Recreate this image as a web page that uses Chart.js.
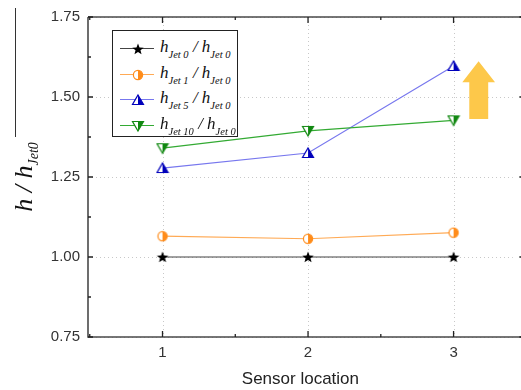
<!DOCTYPE html>
<html>
<head>
<meta charset="utf-8">
<script src="https://cdn.jsdelivr.net/npm/chart.js@4/dist/chart.umd.min.js"></script>
<style>
  html, body { margin: 0; padding: 0; background: #fff; overflow: hidden; }
  #wrap { position: relative; width: 521px; height: 390px; overflow: hidden; }
  #legend { position: absolute; left: 112px; top: 30px; width: 124px; height: 105px; border: 1px solid #222; background: #fff; }
  .row { position: absolute; left: 0; height: 24px; width: 124px; }
  .row .ln { position: absolute; left: 7px; top: 12px; width: 34px; height: 0; border-top: 1px solid; }
  .row img { position: absolute; left: 18px; top: 6px; }
  .row .tx { position: absolute; left: 47px; top: 0px; font-family: "Liberation Serif", "DejaVu Serif", serif; font-style: italic; font-size: 17px; color: #111; white-space: nowrap; line-height: 22px; }
  .tx sub { font-size: 10.5px; vertical-align: -6px; }
  #ytitle { position: absolute; left: 25px; top: 177px; transform: translate(-50%, -50%) rotate(-90deg); font-family: "Liberation Serif", "DejaVu Serif", serif; font-style: italic; font-size: 26px; color: #111; white-space: nowrap; }
  #ytitle sub { font-size: 14px; vertical-align: -6px; }
  #ybar { position: absolute; left: 15px; top: 8px; width: 0; height: 129px; border-left: 1px solid #333; }
</style>
</head>
<body>
<div id="wrap">
  <canvas id="c" width="521" height="390"></canvas>
  <div id="ybar"></div>
  <div id="ytitle">h / h<sub>Jet0</sub></div>
  <div id="legend"></div>
</div>
<script>
const sensorLocations = [1, 2, 3];
const jet0 = [1.000, 1.000, 1.000];
const jet1 = [1.065, 1.057, 1.076];
const jet5 = [1.278, 1.325, 1.597];
const jet10 = [1.340, 1.394, 1.427];
const xTickValues = [1, 2, 3];
const yTickValues = [0.75, 1.00, 1.25, 1.50, 1.75];
const seriesLabels = ["Jet 0", "Jet 1", "Jet 5", "Jet 10"];

function makeMarker(kind, color) {
  const s = 14, c = document.createElement('canvas');
  c.width = s; c.height = s;
  const g = c.getContext('2d');
  const cx = s / 2, cy = s / 2;
  g.lineWidth = 1.2;
  if (kind === 'star') {
    g.beginPath();
    for (let i = 0; i < 10; i++) {
      const r = i % 2 === 0 ? 6 : 2.6;
      const a = -Math.PI / 2 + i * Math.PI / 5;
      g.lineTo(cx + r * Math.cos(a), cy + 0.5 + r * Math.sin(a));
    }
    g.closePath(); g.fillStyle = color; g.fill();
  } else if (kind === 'circle') {
    const r = 4.6;
    g.beginPath(); g.arc(cx, cy, r, 0, Math.PI * 2); g.fillStyle = '#fff'; g.fill();
    g.beginPath(); g.arc(cx, cy, r, -Math.PI / 2, Math.PI / 2); g.closePath(); g.fillStyle = color; g.fill();
    g.beginPath(); g.arc(cx, cy, r, 0, Math.PI * 2); g.strokeStyle = color; g.stroke();
  } else {
    const up = kind === 'triUp';
    const t = up ? cy - 5 : cy + 5, b = up ? cy + 4.5 : cy - 4.5;
    g.beginPath(); g.moveTo(cx, t); g.lineTo(cx + 5.5, b); g.lineTo(cx - 5.5, b); g.closePath();
    g.fillStyle = '#fff'; g.fill();
    g.beginPath(); g.moveTo(cx, t); g.lineTo(cx + 5.5, b); g.lineTo(cx, b); g.closePath();
    g.fillStyle = color; g.fill();
    g.beginPath(); g.moveTo(cx, t); g.lineTo(cx + 5.5, b); g.lineTo(cx - 5.5, b); g.closePath();
    g.strokeStyle = color; g.stroke();
  }
  return c;
}

const styles = [
  { line: '#444444', mk: makeMarker('star', '#000000') },
  { line: '#ffaa55', mk: makeMarker('circle', '#ff8c1a') },
  { line: '#7777ee', mk: makeMarker('triUp', '#0000bb') },
  { line: '#33aa33', mk: makeMarker('triDown', '#118811') },
];
const seriesData = [jet0, jet1, jet5, jet10];

const datasets = seriesData.map((arr, i) => ({
  label: 'h ' + seriesLabels[i] + ' / h Jet 0',
  data: sensorLocations.map((x, j) => ({ x: x, y: arr[j] })),
  borderColor: styles[i].line,
  borderWidth: 1.2,
  pointStyle: styles[i].mk,
  pointRadius: 7,
  pointHoverRadius: 7,
  tension: 0,
  fill: false,
  clip: false,
  order: 4 - i
}));

const leg = document.getElementById('legend');
seriesLabels.forEach((lab, i) => {
  const row = document.createElement('div');
  row.className = 'row';
  row.style.top = (5 + i * 25.5) + 'px';
  row.innerHTML = '<div class="ln" style="border-color:' + styles[i].line + '"></div>' +
    '<img src="' + styles[i].mk.toDataURL() + '">' +
    '<div class="tx">h<sub>' + lab + '</sub> / h<sub>Jet 0</sub></div>';
  leg.appendChild(row);
});

const framePlugin = {
  id: 'frame',
  beforeDatasetsDraw(chart) {
    const { ctx, chartArea: a, scales: { x } } = chart;
    ctx.save();
    ctx.strokeStyle = '#c8c8c8';
    ctx.lineWidth = 1;
    ctx.setLineDash([1, 3]);
    ctx.beginPath();
    xTickValues.forEach(v => {
      const p = Math.round(x.getPixelForValue(v)) + 0.5;
      ctx.moveTo(p, a.top); ctx.lineTo(p, a.bottom);
    });
    ctx.stroke();
    ctx.restore();
  },
  afterDatasetsDraw(chart) {
    const { ctx, scales: { x, y } } = chart;
    ctx.save();
    const px = v => x.getPixelForValue(v), py = v => y.getPixelForValue(v);
    ctx.fillStyle = '#fdc84a';
    ctx.beginPath();
    ctx.moveTo(px(3.172), py(1.612));
    ctx.lineTo(px(3.285), py(1.546));
    ctx.lineTo(px(3.238), py(1.546));
    ctx.lineTo(px(3.238), py(1.431));
    ctx.lineTo(px(3.108), py(1.431));
    ctx.lineTo(px(3.108), py(1.546));
    ctx.lineTo(px(3.060), py(1.546));
    ctx.closePath(); ctx.fill();
    ctx.restore();
  },
  afterDraw(chart) {
    const { ctx, chartArea: a, scales: { x, y } } = chart;
    ctx.save();
    ctx.strokeStyle = '#4a4a4a';
    ctx.lineWidth = 1.6;
    ctx.beginPath();
    ctx.moveTo(a.left, a.top); ctx.lineTo(chart.width, a.top);
    ctx.moveTo(a.left, a.top); ctx.lineTo(a.left, a.bottom); ctx.lineTo(chart.width, a.bottom);
    ctx.stroke();
    ctx.strokeStyle = '#222';
    ctx.lineWidth = 1.3;
    ctx.beginPath();
    for (let v = 0.5; v <= 3.5 + 1e-9; v += 0.5) {
      const p = x.getPixelForValue(v);
      const L = Math.abs(v - Math.round(v)) < 1e-9 ? 6 : 3;
      ctx.moveTo(p, a.bottom); ctx.lineTo(p, a.bottom - L);
      ctx.moveTo(p, a.top); ctx.lineTo(p, a.top + L);
    }
    const rightEdge = x.getPixelForValue(3.5);
    for (let v = y.min; v <= y.max + 1e-9; v += 0.125) {
      const p = y.getPixelForValue(v);
      const major = Math.abs(v * 4 - Math.round(v * 4)) < 1e-9;
      const L = major ? 5 : 3;
      ctx.moveTo(a.left, p); ctx.lineTo(a.left + L, p);
      ctx.moveTo(rightEdge, p); ctx.lineTo(rightEdge - (major ? 7 : 4), p);
    }
    ctx.stroke();
    ctx.restore();
  }
};

new Chart(document.getElementById('c'), {
  type: 'line',
  data: { datasets },
  options: {
    responsive: false,
    animation: false,
    events: [],
    layout: { padding: { left: 0, right: 0, top: 17, bottom: 0 } },
    plugins: { legend: { display: false }, tooltip: { enabled: false } },
    scales: {
      x: {
        type: 'linear', min: 0.488, max: 3.407,
        afterBuildTicks: s => { s.ticks = xTickValues.map(v => ({ value: v })); },
        afterFit: s => { s.height = 53; s.paddingLeft = 0; s.paddingRight = 0; },
        grid: { color: 'rgba(0,0,0,0)', lineWidth: 1, drawTicks: false },
        border: { display: false },
        ticks: { color: '#333', padding: 7, font: { family: 'Liberation Sans, Arial', size: 15 }, callback: v => String(v), maxRotation: 0 },
        title: { display: true, text: 'Sensor location', color: '#222', font: { family: 'Liberation Sans, Arial', size: 17 }, padding: { top: 0, bottom: 0 } }
      },
      y: {
        type: 'linear', min: 0.75, max: 1.75,
        afterBuildTicks: s => { s.ticks = yTickValues.map(v => ({ value: v })); },
        afterFit: s => { s.width = 88; },
        grid: { color: '#c8c8c8', lineWidth: 1, drawTicks: false },
        border: { display: false, dash: [1, 3] },
        ticks: { color: '#333', padding: 8, font: { family: 'Liberation Sans, Arial', size: 15 }, callback: v => v.toFixed(2) }
      }
    }
  },
  plugins: [framePlugin]
});
</script>
</body>
</html>
